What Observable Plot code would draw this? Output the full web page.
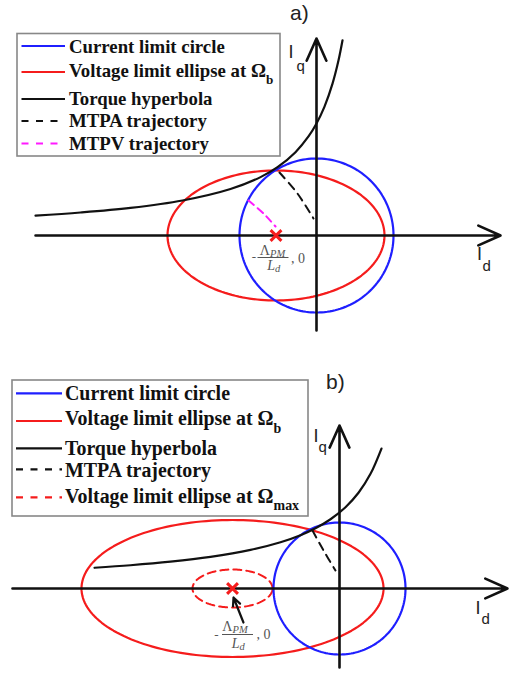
<!DOCTYPE html>
<html><head><meta charset="utf-8">
<script src="https://cdn.jsdelivr.net/npm/d3@7"></script>
<script src="https://cdn.jsdelivr.net/npm/@observablehq/plot@0.6"></script>
<style>
body{margin:0;background:#fff;}
.panel{position:relative;width:513px;overflow:hidden;}
.panel svg.ov{position:absolute;left:0;top:0;}
</style></head><body>
<div id="pa" class="panel"></div>
<div id="pb" class="panel"></div>
<script>
// ---------------- DATA (units: current-limit radius = 1) ----------------
const legendLabelsA = ["Current limit circle", "Voltage limit ellipse at Ω", "Torque hyperbola", "MTPA trajectory", "MTPV trajectory"];
const legendSubsA   = ["", "b", "", "", ""];
const legendLabelsB = ["Current limit circle", "Voltage limit ellipse at Ω", "Torque hyperbola", "MTPA trajectory", "Voltage limit ellipse at Ω"];
const legendSubsB   = ["", "b", "", "", "max"];
const panelTitles = ["a)", "b)"];

// panel a
const a_circle  = [0, 0, 1, 1];               // cx, cy, rx, ry
const a_ellipse = [-0.526, 0, 1.409, 0.844];
const a_torqueId = [-3.649, -3.065, -2.416, -1.740, -1.117, -0.727, -0.506, -0.273, -0.104, 0, 0.104, 0.208, 0.286, 0.338];
const a_torqueIq = [0.259, 0.299, 0.359, 0.455, 0.604, 0.758, 0.887, 1.082, 1.286, 1.455, 1.674, 1.972, 2.275, 2.535];
const a_mtpaId = [-0.481, -0.247, -0.039];
const a_mtpaIq = [0.818, 0.545, 0.221];
const a_mtpvId = [-0.883, -0.688, -0.532];
const a_mtpvIq = [0.455, 0.286, 0.117];
const a_axisId = [-3.649, 2.39];
const a_axisIq = [-1.234, 2.558];

// panel b
const b_circle     = [0, 0, 1, 1];
const b_ellipse    = [-1.621, 0, 2.288, 1.038];
const b_ellipseMax = [-1.621, 0, 0.606, 0.288];
const b_torqueId = [-3.712, -3.167, -2.561, -1.955, -1.348, -0.894, -0.591, -0.364, -0.136, 0.091, 0.288, 0.470, 0.636];
const b_torqueIq = [0.314, 0.352, 0.406, 0.479, 0.585, 0.701, 0.808, 0.913, 1.049, 1.232, 1.451, 1.737, 2.120];
const b_mtpaId = [-0.409, -0.242, -0.061];
const b_mtpaIq = [0.879, 0.576, 0.273];
const b_axisId = [-4.955, 2.545];
const b_axisIq = [-1.197, 2.47];
const b_pointer = [-1.455, -0.515, -1.606, -0.136]; // x1, y1, x2, y2

// ---------------- STYLE ----------------
const BLUE = "#1f1fff", RED = "#f51c1c", MAG = "#ff1aff", BLK = "#111";
const LAB = "#555";

function ellipsePts([cx, cy, rx, ry]) {
  return d3.range(0, 361, 2).map(t => ({x: cx + rx * Math.cos(t * Math.PI / 180), y: cy + ry * Math.sin(t * Math.PI / 180)}));
}
const zip = (xs, ys) => xs.map((x, i) => ({x, y: ys[i]}));

function axesMarks(axId, axIq, L) {
  const tipQ = {x: 0, y: axIq[1]}, tipD = {x: axId[1], y: 0};
  const sans = {fontFamily: "Liberation Sans, Arial, sans-serif", fill: "#222", lineAnchor: "bottom"};
  return [
    Plot.arrow([{x1: axId[0], y1: 0, x2: axId[1], y2: 0}], {x1: "x1", y1: "y1", x2: "x2", y2: "y2", stroke: BLK, strokeWidth: 2.6, headLength: 14, headAngle: 48}),
    Plot.arrow([{x1: 0, y1: axIq[0], x2: 0, y2: axIq[1]}], {x1: "x1", y1: "y1", x2: "x2", y2: "y2", stroke: BLK, strokeWidth: 2.6, headLength: 14, headAngle: 48}),
    Plot.text([tipQ], {x: "x", y: "y", text: () => "I", dx: L.qI[0], dy: L.qI[1], fontSize: 18, textAnchor: "middle", ...sans}),
    Plot.text([tipQ], {x: "x", y: "y", text: () => "q", dx: L.qs[0], dy: L.qs[1], fontSize: 15, textAnchor: "start", ...sans}),
    Plot.text([tipD], {x: "x", y: "y", text: () => "I", dx: L.dI[0], dy: L.dI[1], fontSize: 18, textAnchor: "middle", ...sans}),
    Plot.text([tipD], {x: "x", y: "y", text: () => "d", dx: L.ds[0], dy: L.ds[1], fontSize: 15, textAnchor: "start", ...sans})
  ];
}

function fractionMarks(pt, F) {
  const serif = {fontFamily: "Liberation Serif, Times New Roman, serif", fill: LAB, lineAnchor: "bottom"};
  return [
    Plot.text([pt], {x: "x", y: "y", text: () => "-", dx: F.minus[0], dy: F.minus[1], fontSize: 13, textAnchor: "middle", ...serif}),
    Plot.text([pt], {x: "x", y: "y", text: () => "Λ", dx: F.num[0], dy: F.num[1], fontSize: 14, textAnchor: "end", ...serif}),
    Plot.text([pt], {x: "x", y: "y", text: () => "PM", dx: F.num[0], dy: F.num[1] + 2, fontSize: 10.5, fontStyle: "italic", textAnchor: "start", ...serif}),
    Plot.ruleY([pt], {x1: "x", x2: "x", y: "y", dy: F.bar[0], insetLeft: F.bar[1], insetRight: F.bar[2], stroke: LAB, strokeWidth: 1}),
    Plot.text([pt], {x: "x", y: "y", text: () => "L", dx: F.den[0], dy: F.den[1], fontSize: 14, fontStyle: "italic", textAnchor: "end", ...serif}),
    Plot.text([pt], {x: "x", y: "y", text: () => "d", dx: F.den[0], dy: F.den[1] + 2, fontSize: 10.5, fontStyle: "italic", textAnchor: "start", ...serif}),
    Plot.text([pt], {x: "x", y: "y", text: () => ", 0", dx: F.tail[0], dy: F.tail[1], fontSize: 14, textAnchor: "start", ...serif})
  ];
}

function frame(H, u, ox, oy) {
  return {width: 513, height: H, margin: 0,
    x: {domain: [-ox / u, (513 - ox) / u], axis: null},
    y: {domain: [-(H - oy) / u, oy / u], axis: null}};
}

function overlay(H, title, labels, subs, swatches, box, rows, fs) {
  let s = `<svg class="ov" width="513" height="${H}" xmlns="http://www.w3.org/2000/svg">`;
  s += `<text x="${title[1]}" y="${title[2]}" font-family="Liberation Sans, Arial, sans-serif" font-size="21" fill="#222">${title[0]}</text>`;
  s += `<rect x="${box[0]}" y="${box[1]}" width="${box[2]}" height="${box[3]}" fill="#fff" stroke="#888" stroke-width="1.6"/>`;
  labels.forEach((lab, i) => {
    const sw = swatches[i];
    s += `<line x1="${rows.sx[0]}" x2="${rows.sx[1]}" y1="${rows.sy[i]}" y2="${rows.sy[i]}" stroke="${sw.c}" stroke-width="2.2" ${sw.d ? `stroke-dasharray="${sw.d}"` : ""}/>`;
    s += `<text x="${rows.tx}" y="${rows.ty[i]}" font-family="Liberation Serif, Times New Roman, serif" font-weight="bold" font-size="${fs}" fill="#111">${lab}`;
    if (subs[i]) s += `<tspan dy="${fs * 0.38}" font-size="${fs * 0.7}">${subs[i]}</tspan>`;
    s += `</text>`;
  });
  return s + `</svg>`;
}

// ---------------- PANEL A ----------------
{
  const H = 335, u = 77;
  const X = {x: a_ellipse[0], y: 0};
  const plot = Plot.plot({...frame(H, u, 316, 235), marks: [
    Plot.line(ellipsePts(a_ellipse), {x: "x", y: "y", stroke: RED, strokeWidth: 2.2}),
    Plot.line(ellipsePts(a_circle), {x: "x", y: "y", stroke: BLUE, strokeWidth: 2.2}),
    Plot.line(zip(a_torqueId, a_torqueIq), {x: "x", y: "y", stroke: BLK, strokeWidth: 2.2, curve: "catmull-rom"}),
    Plot.line(zip(a_mtpaId, a_mtpaIq), {x: "x", y: "y", stroke: BLK, strokeWidth: 2, strokeDasharray: "8,6", curve: "catmull-rom"}),
    Plot.line(zip(a_mtpvId, a_mtpvIq), {x: "x", y: "y", stroke: MAG, strokeWidth: 2, strokeDasharray: "7,5", curve: "catmull-rom"}),
    ...axesMarks(a_axisId, a_axisIq, {qI: [-25.5, 19], qs: [-20, 32], dI: [-21, 24], ds: [-18, 35]}),
    Plot.dot([X], {x: "x", y: "y", symbol: "times", r: 5, stroke: RED, strokeWidth: 3}),
    ...fractionMarks(X, {minus: [-22, 25], num: [-6, 19], bar: [22, -18, -13], den: [-1, 34], tail: [15, 27]})
  ]});
  const el = document.getElementById("pa");
  el.style.height = H + "px";
  el.append(plot);
  el.insertAdjacentHTML("beforeend", overlay(H, [panelTitles[0], 290, 20], legendLabelsA, legendSubsA,
    [{c: BLUE}, {c: RED}, {c: BLK}, {c: BLK, d: "7,7.5"}, {c: MAG, d: "7,7.5"}],
    [17, 33.5, 263, 122.5],
    {sx: [21.5, 65], sy: [46, 72, 99, 121, 143.5], tx: 69, ty: [53, 77, 105, 127, 150]}, 18.8));
}

// ---------------- PANEL B ----------------
{
  const H = 338, u = 66;
  const X = {x: b_ellipse[0], y: 0};
  const plot = Plot.plot({...frame(H, u, 339, 253), marks: [
    Plot.line(ellipsePts(b_ellipse), {x: "x", y: "y", stroke: RED, strokeWidth: 2.2}),
    Plot.line(ellipsePts(b_ellipseMax), {x: "x", y: "y", stroke: RED, strokeWidth: 2, strokeDasharray: "8,5"}),
    Plot.line(ellipsePts(b_circle), {x: "x", y: "y", stroke: BLUE, strokeWidth: 2.2}),
    Plot.line(zip(b_torqueId, b_torqueIq), {x: "x", y: "y", stroke: BLK, strokeWidth: 2.2, curve: "catmull-rom"}),
    Plot.line(zip(b_mtpaId, b_mtpaIq), {x: "x", y: "y", stroke: BLK, strokeWidth: 2, strokeDasharray: "8,6", curve: "catmull-rom"}),
    ...axesMarks(b_axisId, b_axisIq, {qI: [-23.5, 17], qs: [-21, 27], dI: [-29.5, 25], ds: [-26, 35]}),
    Plot.dot([X], {x: "x", y: "y", symbol: "times", r: 5, stroke: RED, strokeWidth: 3}),
    Plot.arrow([{x1: b_pointer[0], y1: b_pointer[1], x2: b_pointer[2], y2: b_pointer[3]}], {x1: "x1", y1: "y1", x2: "x2", y2: "y2", stroke: BLK, strokeWidth: 2.2, headLength: 13, headAngle: 50}),
    ...fractionMarks(X, {minus: [-16, 50], num: [0, 42], bar: [46, -10, -21], den: [7, 59], tail: [24, 50]})
  ]});
  const el = document.getElementById("pb");
  el.style.height = H + "px";
  el.append(plot);
  el.insertAdjacentHTML("beforeend", overlay(H, [panelTitles[1], 326, 54], legendLabelsB, legendSubsB,
    [{c: BLUE}, {c: RED}, {c: BLK}, {c: BLK, d: "7,7.5"}, {c: RED, d: "7,7.5"}],
    [12, 45, 296, 136],
    {sx: [16, 62], sy: [58.3, 86, 113.3, 134.3, 162.3], tx: 65, ty: [65, 90, 120, 141.7, 167.7]}, 19.9));
}
</script>
</body></html>
